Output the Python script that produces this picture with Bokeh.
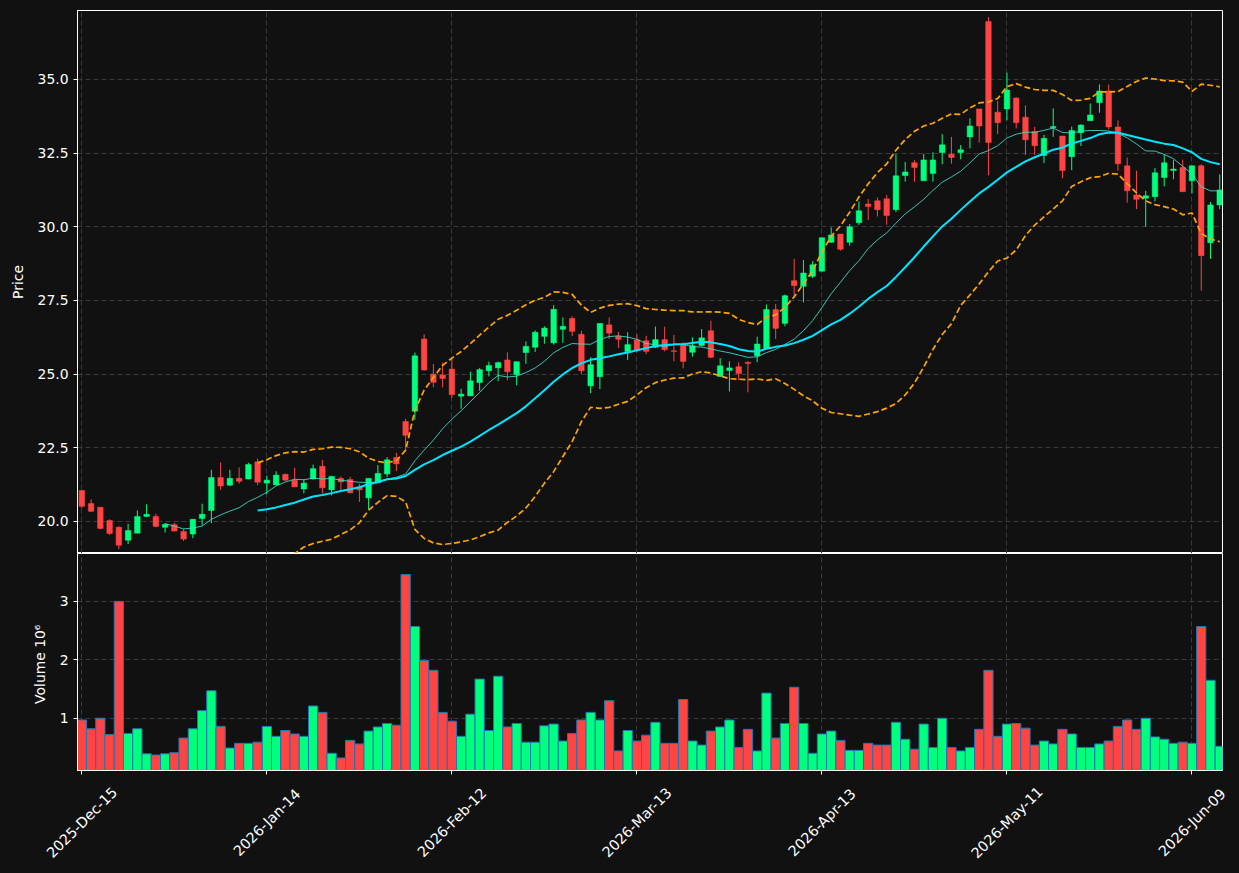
import math
import numpy as np
import pandas as pd
from bokeh.plotting import figure
from bokeh.layouts import column
from bokeh.models import Range1d, FixedTicker, ColumnDataSource, PrintfTickFormatter
from bokeh.core.properties import value
from bokeh.embed import file_html
from bokeh.resources import INLINE

# ---------------- data ----------------
opens = [21.05, 20.61, 20.48, 20.03, 19.80, 19.36, 19.60, 20.17, 20.17, 19.80,
         19.89, 19.66, 19.57, 20.10, 20.37, 21.49, 21.23, 21.46, 21.44, 22.02,
         21.30, 21.24, 21.60, 21.40, 21.10, 21.44, 21.87, 21.07, 21.46, 21.42,
         21.17, 20.80, 21.31, 21.61, 22.17, 23.39, 23.74, 26.19, 25.00, 24.97,
         25.17, 24.25, 24.26, 24.71, 25.11, 25.21, 25.48, 24.98, 25.73, 25.91,
         26.28, 26.06, 26.52, 26.89, 26.35, 24.60, 24.91, 26.67, 26.28, 25.76,
         26.16, 26.13, 25.91, 26.17, 25.79, 26.00, 25.74, 25.97, 26.47, 24.92,
         25.12, 25.25, 25.40, 25.62, 25.87, 27.19, 26.72, 28.17, 27.98, 28.32,
         28.49, 29.47, 29.75, 29.47, 30.14, 30.77, 30.88, 30.95, 30.58, 31.74,
         32.17, 31.56, 31.81, 32.52, 32.46, 32.52, 33.05, 34.00, 36.97, 33.89,
         34.00, 34.37, 33.72, 33.23, 32.42, 33.36, 33.08, 32.38, 33.19, 33.60,
         34.21, 34.61, 33.39, 32.07, 31.08, 30.97, 31.02, 31.67, 31.91, 32.01,
         31.56, 32.07, 29.46, 30.74]
highs = [21.05, 20.75, 20.48, 20.07, 19.83, 19.92, 20.37, 20.58, 20.26, 19.94,
         19.95, 19.74, 20.07, 20.60, 21.75, 22.00, 21.75, 21.83, 21.99, 22.13,
         21.55, 21.70, 21.62, 21.82, 21.43, 21.93, 22.09, 21.53, 21.53, 21.51,
         21.28, 21.46, 21.91, 22.18, 22.33, 23.48, 25.73, 26.35, 25.34, 25.39,
         25.51, 24.50, 25.08, 25.21, 25.42, 25.42, 25.74, 25.42, 26.11, 26.48,
         26.62, 27.34, 26.92, 26.96, 26.47, 25.57, 26.72, 26.92, 26.43, 26.42,
         26.35, 26.30, 26.61, 26.61, 26.33, 26.08, 26.25, 26.53, 26.81, 25.54,
         25.43, 25.40, 25.43, 26.27, 27.36, 27.38, 27.70, 28.91, 28.87, 28.83,
         29.63, 29.98, 29.75, 30.09, 30.86, 30.94, 30.99, 31.08, 32.46, 32.20,
         32.26, 32.48, 32.53, 33.14, 33.05, 32.77, 33.68, 34.00, 37.11, 34.27,
         35.23, 34.40, 34.12, 33.39, 33.12, 34.02, 33.08, 33.40, 33.48, 34.18,
         34.83, 34.83, 33.61, 32.35, 31.90, 31.22, 31.99, 32.46, 32.27, 32.28,
         32.07, 32.12, 30.84, 31.78]
lows = [20.45, 20.32, 19.73, 19.54, 19.06, 19.23, 19.60, 20.15, 19.80, 19.62,
        19.66, 19.33, 19.43, 19.86, 19.94, 21.07, 21.20, 21.28, 21.43, 21.23,
        20.92, 21.23, 21.37, 21.17, 20.95, 21.42, 20.95, 20.88, 21.04, 20.95,
        20.66, 20.41, 21.31, 21.51, 21.71, 22.38, 23.45, 25.11, 24.55, 24.55,
        24.19, 23.82, 24.26, 24.43, 24.92, 24.76, 24.79, 24.62, 25.35, 25.75,
        26.03, 26.00, 26.06, 26.29, 25.00, 24.35, 24.49, 26.19, 25.89, 25.48,
        25.74, 25.68, 25.88, 25.77, 25.43, 25.20, 25.59, 25.94, 25.54, 24.90,
        24.41, 24.80, 24.38, 25.40, 25.85, 26.19, 26.62, 27.60, 27.43, 28.26,
        28.49, 29.46, 29.19, 29.36, 30.06, 30.23, 30.35, 30.07, 30.50, 31.53,
        31.53, 31.56, 31.53, 32.12, 32.14, 32.29, 32.66, 32.86, 31.75, 33.14,
        33.61, 33.34, 32.44, 32.44, 32.16, 33.05, 31.65, 31.92, 32.74, 33.59,
        33.87, 33.31, 31.90, 30.82, 30.60, 30.00, 30.86, 31.37, 31.61, 31.19,
        31.13, 27.83, 28.91, 30.60]
closes = [20.51, 20.34, 19.76, 19.59, 19.19, 19.69, 20.17, 20.24, 19.83, 19.90,
          19.67, 19.40, 20.07, 20.24, 21.49, 21.20, 21.46, 21.36, 21.93, 21.33,
          21.40, 21.57, 21.40, 21.17, 21.30, 21.79, 21.14, 21.53, 21.34, 20.97,
          21.07, 21.46, 21.63, 22.09, 21.95, 22.92, 25.62, 25.14, 24.72, 24.85,
          24.30, 24.32, 24.77, 25.15, 25.29, 25.39, 25.08, 25.42, 25.94, 26.42,
          26.56, 27.20, 26.62, 26.45, 25.11, 25.32, 26.72, 26.39, 26.18, 26.00,
          25.82, 25.77, 26.17, 25.83, 25.77, 25.43, 25.96, 26.23, 25.57, 25.28,
          25.21, 25.02, 25.36, 26.02, 27.19, 26.55, 27.66, 28.00, 28.43, 28.71,
          29.63, 29.72, 29.24, 30.00, 30.54, 30.69, 30.58, 30.38, 31.73, 31.86,
          32.01, 32.27, 32.27, 32.78, 32.35, 32.61, 33.42, 33.42, 32.86, 33.53,
          34.64, 33.53, 32.95, 32.75, 33.00, 33.40, 31.91, 33.27, 33.45, 33.79,
          34.61, 33.39, 32.14, 31.22, 30.93, 31.05, 31.83, 32.17, 31.96, 31.19,
          32.07, 29.02, 30.74, 31.25]
volumes_m = [0.97, 0.82, 1.00, 0.72, 3.00, 0.74, 0.82, 0.39, 0.37, 0.39,
             0.41, 0.66, 0.82, 1.13, 1.47, 0.86, 0.49, 0.57, 0.57, 0.59,
             0.86, 0.69, 0.79, 0.73, 0.69, 1.21, 1.10, 0.40, 0.32, 0.62,
             0.56, 0.78, 0.85, 0.91, 0.88, 3.46, 2.57, 1.99, 1.82, 1.10,
             0.95, 0.69, 1.07, 1.67, 0.79, 1.72, 0.85, 0.91, 0.59, 0.59,
             0.87, 0.90, 0.61, 0.74, 0.97, 1.10, 0.97, 1.30, 0.44, 0.79,
             0.61, 0.71, 0.93, 0.57, 0.57, 1.32, 0.61, 0.54, 0.78, 0.85,
             0.97, 0.50, 0.81, 0.44, 1.43, 0.66, 0.91, 1.53, 0.91, 0.40,
             0.73, 0.78, 0.62, 0.45, 0.45, 0.57, 0.54, 0.54, 0.93, 0.64,
             0.47, 0.90, 0.50, 1.00, 0.50, 0.44, 0.50, 0.81, 1.82, 0.69,
             0.90, 0.91, 0.83, 0.54, 0.61, 0.56, 0.81, 0.73, 0.50, 0.50,
             0.56, 0.61, 0.86, 0.97, 0.81, 1.00, 0.68, 0.64, 0.57, 0.59,
             0.57, 2.57, 1.65, 0.52]
tick_index = [0, 20, 40, 60, 80, 100, 120]
tick_labels = ["2025-Dec-15", "2026-Jan-14", "2026-Feb-12", "2026-Mar-13",
               "2026-Apr-13", "2026-May-11", "2026-Jun-09"]
price_ticks = [20.0, 22.5, 25.0, 27.5, 30.0, 32.5, 35.0]
volume_ticks = [1, 2, 3]

# ---------------- derived ----------------
n = len(closes)
idx = list(range(n))
up = [c >= o for o, c in zip(opens, closes)]
UP_C = "#00ff7f"
DN_C = "#ff4444"
colors = [UP_C if u else DN_C for u in up]

cs = pd.Series(closes)
sma10 = cs.rolling(10).mean()
sma20 = cs.rolling(20).mean()
std20 = cs.rolling(20).std()
bb_up = sma20 + 2 * std20
bb_lo = sma20 - 2 * std20

src = ColumnDataSource(dict(
    x=idx, o=opens, h=highs, l=lows, c=closes,
    top=[max(a, b) for a, b in zip(opens, closes)],
    bot=[min(a, b) for a, b in zip(opens, closes)],
    color=colors, vol=volumes_m,
    sma10=sma10.values, sma20=sma20.values, bbu=bb_up.values, bbl=bb_lo.values,
))

BG = "#111111"
FONT = "DejaVu Sans"
GRID_C = "#3a3a3a"
FS = "13.9px"

X0, X1 = -0.47, 123.3
LEFT, RIGHT = 77, 17
W = 1239
x_range = Range1d(X0, X1)


def style_axes(fig):
    for ax in fig.axis:
        ax.axis_line_color = "white"
        ax.major_tick_line_color = "white"
        ax.major_tick_out = 4
        ax.major_tick_in = 0
        ax.minor_tick_line_color = None
        ax.major_label_text_color = "white"
        ax.major_label_text_font = FONT
        ax.major_label_text_font_size = FS
        ax.axis_label_text_color = "white"
        ax.axis_label_text_font = FONT
        ax.axis_label_text_font_size = FS
        ax.axis_label_text_font_style = "normal"
        ax.axis_label_standoff = 9
    for g in fig.grid:
        g.grid_line_color = GRID_C
        g.grid_line_dash = "5 3"
        g.grid_line_width = 1


# ---------------- price panel ----------------
p = figure(width=W, height=553, x_range=x_range, y_range=Range1d(18.91, 37.34),
           output_backend="svg", toolbar_location=None, x_axis_location=None,
           min_border_left=LEFT, min_border_right=RIGHT, min_border_top=10, min_border_bottom=0,
           background_fill_color=BG, border_fill_color=BG,
           outline_line_color="white", outline_line_width=1)
p.yaxis.ticker = FixedTicker(ticks=price_ticks)
p.yaxis.formatter = PrintfTickFormatter(format="%.1f")
p.yaxis.axis_label = "Price"
p.xgrid.ticker = FixedTicker(ticks=tick_index)
style_axes(p)

p.segment(x0="x", y0="l", x1="x", y1="h", color="color", line_width=1, source=src)
p.vbar(x="x", width=0.6, top="top", bottom="bot", fill_color="color",
       line_color="color", line_width=0.5, source=src)

p.line("x", "sma10", source=src, color="#40e0d0", line_width=1, line_alpha=0.85)
p.line("x", "sma20", source=src, color="#00e5ff", line_width=2)
p.line("x", "bbu", source=src, color="orange", line_width=1.7, line_dash="6 3")
p.line("x", "bbl", source=src, color="orange", line_width=1.7, line_dash="6 3")

# ---------------- volume panel ----------------
V_BOTTOM = 8
v = figure(width=W, height=217 + V_BOTTOM, x_range=x_range, y_range=Range1d(0.105, 3.82),
           output_backend="svg", toolbar_location=None,
           min_border_left=LEFT, min_border_right=RIGHT, min_border_top=0,
           min_border_bottom=V_BOTTOM,
           background_fill_color=BG, border_fill_color=BG,
           outline_line_color="white", outline_line_width=1)
v.vbar(x="x", width=1.0, top="vol", bottom=0, fill_color="color",
       line_color="#1f77b4", line_width=1, source=src)
v.yaxis.ticker = FixedTicker(ticks=volume_ticks)
v.yaxis.axis_label = "Volume  10\u2076"
v.xaxis.ticker = FixedTicker(ticks=tick_index)
v.xaxis.major_label_overrides = {i: "" for i in tick_index}
style_axes(v)
v.xaxis.major_label_text_font_size = "1px"
v.xaxis.major_label_standoff = 0

# ---------------- date labels strip (rotated 45°, centred under ticks) ----------------
LAB_H = 873 - 553 - (217 + V_BOTTOM)
px_per_unit = (W - LEFT - RIGHT) / (X1 - X0)
lab = figure(width=W, height=LAB_H,
             x_range=Range1d(X0 - LEFT / px_per_unit, X1 + RIGHT / px_per_unit),
             y_range=Range1d(0, LAB_H),
             output_backend="svg", toolbar_location=None,
             x_axis_location=None, y_axis_location=None,
             min_border_left=0, min_border_right=0, min_border_top=0, min_border_bottom=0,
             background_fill_color=BG, border_fill_color=BG, outline_line_color=None)
lab.grid.visible = False
label_center_from_top = 822 - (553 + 217 + V_BOTTOM)
lab.text(x=tick_index, y=[LAB_H - label_center_from_top] * len(tick_index), text=tick_labels,
         angle=math.pi / 4, text_align="center", text_baseline="middle",
         text_color="white", text_font=value(FONT), text_font_size=value("14.3px"))

layout = column(p, v, spacing=0, styles={"background-color": BG})
html = file_html([layout, lab], INLINE, "chart")
html = html.replace("<body>", '<body style="margin:0;background:#111111;">')
open("out.html", "w").write(html)
